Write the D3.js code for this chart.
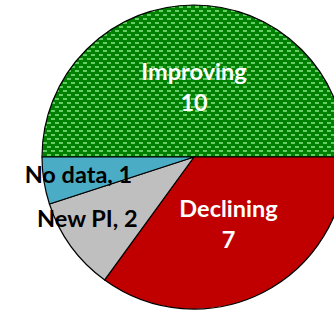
<!DOCTYPE html>
<html lang="en">
<head>
<meta charset="UTF-8">
<title>PI status</title>
<script src="https://d3js.org/d3.v7.min.js"></script>
<style>
  body { margin: 0; background: #fff; }
  svg { display: block; }
</style>
</head>
<body>
<svg width="334" height="311"></svg>
<script>
// data
var categories = ['Improving', 'Declining', 'New PI', 'No data'];
var values = [10, 7, 2, 1];
var labels = ['Improving\n10', 'Declining\n7', 'New PI, 2', 'No data, 1'];
var colors = ['url(#dots)', '#c00000', '#bfbfbf', '#4bacc6'];
var labelColors = ['#fff', '#fff', '#000', '#000'];
var labelRadius = [0.46, 0.50, 0.81, 0.77];
var labelTurn = [0, 0, 0.105, 0];

var svg = d3.select('svg');
var cx = 194, cy = 157, r = 152;

// green patterned fill
var pat = svg.append('defs').append('pattern')
    .attr('id', 'dots')
    .attr('patternUnits', 'userSpaceOnUse')
    .attr('width', 8).attr('height', 8);
pat.append('rect').attr('width', 8).attr('height', 8).attr('fill', '#008000');
pat.append('rect').attr('x', 1).attr('y', 1).attr('width', 4).attr('height', 2).attr('fill', '#66cc66');
pat.append('rect').attr('x', 5).attr('y', 5).attr('width', 4).attr('height', 2).attr('fill', '#66cc66');
pat.append('rect').attr('x', -3).attr('y', 5).attr('width', 4).attr('height', 2).attr('fill', '#66cc66');

var g = svg.append('g').attr('transform', 'translate(' + cx + ',' + cy + ')');

var pie = d3.pie().sort(null)
    .startAngle(-Math.PI / 2).endAngle(Math.PI * 1.5)
    .value(function (d) { return d; });
var arcs = pie(values);
var arc = d3.arc().innerRadius(0).outerRadius(r);

g.selectAll('path')
    .data(arcs)
    .enter()
    .append('path')
    .attr('d', arc)
    .attr('fill', function (d, i) { return colors[i]; })
    .attr('stroke', '#000')
    .attr('stroke-width', 1.2);

// labels
g.selectAll('text')
    .data(arcs)
    .enter()
    .append('text')
    .attr('text-anchor', 'middle')
    .attr('font-family', 'Lato, "Open Sans", sans-serif')
    .attr('font-weight', 'bold')
    .attr('font-size', 23.5)
    .attr('fill', function (d, i) { return labelColors[i]; })
    .each(function (d, i) {
        var a = (d.startAngle + d.endAngle) / 2 + labelTurn[i];
        var rr = r * labelRadius[i];
        var c = [Math.sin(a) * rr, -Math.cos(a) * rr];
        var lines = labels[i].split('\n');
        var t = d3.select(this);
        lines.forEach(function (s, k) {
            t.append('tspan')
                .attr('x', c[0])
                .attr('y', c[1] + (k - (lines.length - 1) / 2) * 31 + 8)
                .text(s);
        });
    });
</script>
</body>
</html>
